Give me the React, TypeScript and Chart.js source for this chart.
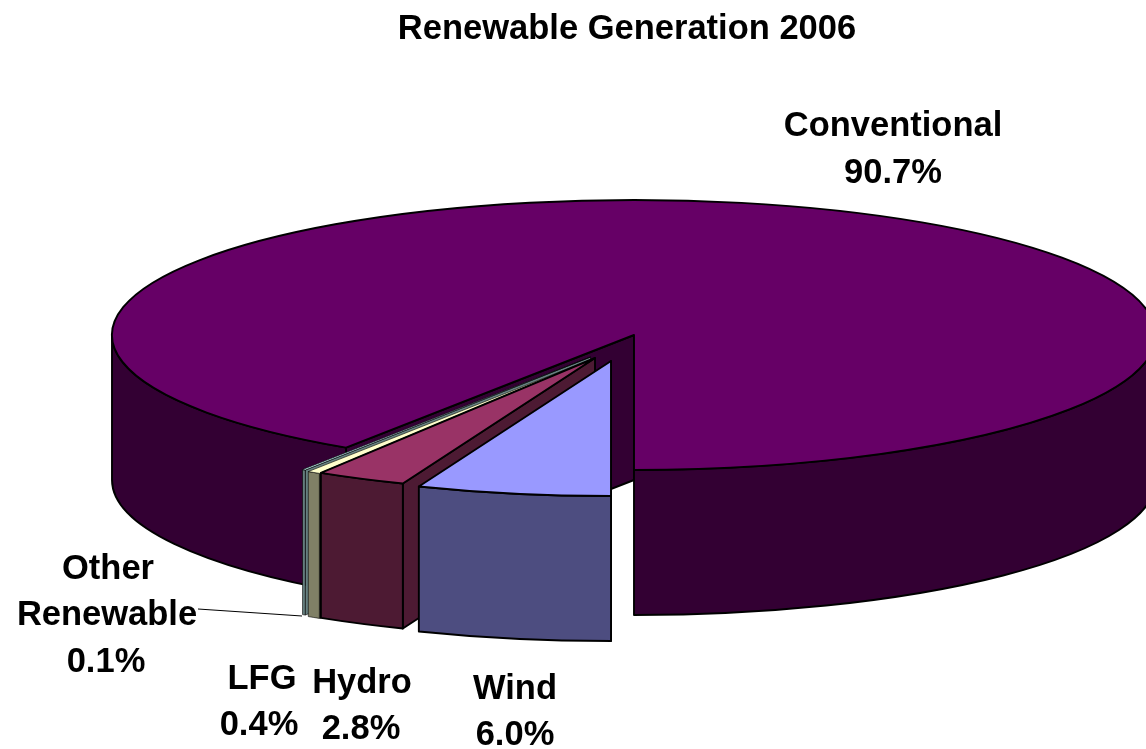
import React, { useEffect, useRef } from "react";
import { Chart, registerables } from "chart.js";

Chart.register(...registerables);

// Data, clockwise from straight down
const categories = ["Wind", "Hydro", "LFG", "Other Renewable", "Conventional"];
const shares = [6.0, 2.8, 0.4, 0.1, 90.7];
const titleText = "Renewable Generation 2006";

// Style
const topColors = ["#9999FF", "#993366", "#FFFFCC", "#CCFFFF", "#660066"];
const wallColors = ["#4D4D80", "#4D1A33", "#808066", "#668080", "#330033"];
const FONT = '"Liberation Sans", Arial, sans-serif';
const FONT_SIZE = 34.5;
const RADIUS = 522;
const SQUASH = 135 / 522;
const DEPTH = 145;
const CENTER_SHIFT = 7;
const LINE = 1.9;
const THIN_LINE = 0.6;
const explodeX = [-23, -39, -40.5, -43.5, 0];
const explodeY = [26, 23, 23.5, 22, 0];

const labelLines = [
  ["Wind", "6.0%"],
  ["Hydro", "2.8%"],
  ["LFG", "0.4%"],
  ["Other", "Renewable", "0.1%"],
  ["Conventional", "90.7%"],
];
const labelX = [[515, 515], [362, 361], [262, 259], [108, 107, 106], [893, 893]];
const labelY = [[689, 735], [683, 729], [679, 725], [569, 615, 662], [126, 173]];

function centerY(chart: any) {
  return (chart.chartArea.top + chart.chartArea.bottom) / 2;
}

function arcCenter(chart: any, arc: any) {
  const cy = centerY(chart);
  return { x: arc.x, y: cy + (arc.y - cy) * SQUASH };
}

function frontRanges(start: number, end: number) {
  const out: [number, number][] = [];
  for (const [a, b] of [
    [0, Math.PI],
    [2 * Math.PI, 3 * Math.PI],
  ]) {
    const s = Math.max(a, start);
    const e = Math.min(b, end);
    if (e > s) out.push([s, e]);
  }
  return out;
}

const pie3d = {
  id: "pie3d",
  afterDatasetsUpdate(chart: any) {
    const arcs = chart.getDatasetMeta(0).data;
    arcs.forEach((arc: any, i: number) => {
      arc.x += CENTER_SHIFT + explodeX[i];
      arc.y += explodeY[i] / SQUASH;
    });
  },
  beforeDatasetsDraw(chart: any) {
    const { ctx } = chart;
    const arcs = chart.getDatasetMeta(0).data;
    ctx.save();
    ctx.strokeStyle = "#000000";
    ctx.lineJoin = "round";
    for (let i = arcs.length - 1; i >= 0; i--) {
      const arc = arcs[i];
      const c = arcCenter(chart, arc);
      const ry = arc.outerRadius * SQUASH;
      ctx.lineWidth = i === 2 || i === 3 ? THIN_LINE : LINE;
      ctx.fillStyle = wallColors[i];
      // radial cut face on the start edge, which looks towards the viewer
      const px = c.x + arc.outerRadius * Math.cos(arc.startAngle);
      const py = c.y + ry * Math.sin(arc.startAngle);
      ctx.beginPath();
      ctx.moveTo(c.x, c.y);
      ctx.lineTo(px, py);
      ctx.lineTo(px, py + DEPTH);
      ctx.lineTo(c.x, c.y + DEPTH);
      ctx.closePath();
      ctx.fill();
      ctx.stroke();
      // outer curved wall, front half only
      for (const [a, b] of frontRanges(arc.startAngle, arc.endAngle)) {
        ctx.beginPath();
        ctx.ellipse(c.x, c.y, arc.outerRadius, ry, 0, a, b, false);
        ctx.ellipse(c.x, c.y + DEPTH, arc.outerRadius, ry, 0, b, a, true);
        ctx.closePath();
        ctx.fill();
        ctx.stroke();
      }
    }
    ctx.restore();
    // the library draws the top faces through this squash
    const cy = centerY(chart);
    ctx.save();
    ctx.translate(0, cy);
    ctx.scale(1, SQUASH);
    ctx.translate(0, -cy);
  },
  afterDatasetsDraw(chart: any) {
    const { ctx } = chart;
    ctx.restore();
    const arcs = chart.getDatasetMeta(0).data;
    ctx.save();
    ctx.strokeStyle = "#000000";
    ctx.lineJoin = "round";
    arcs.forEach((arc: any, i: number) => {
      // the two thin slivers keep their pale faces visible
      ctx.lineWidth = i === 2 || i === 3 ? THIN_LINE : LINE;
      const c = arcCenter(chart, arc);
      ctx.beginPath();
      ctx.moveTo(c.x, c.y);
      ctx.ellipse(c.x, c.y, arc.outerRadius, arc.outerRadius * SQUASH, 0, arc.startAngle, arc.endAngle, false);
      ctx.closePath();
      ctx.stroke();
    });
    ctx.restore();
  },
  afterDraw(chart: any) {
    const { ctx } = chart;
    ctx.save();
    // leader line of the smallest slice
    ctx.strokeStyle = "#000000";
    ctx.lineWidth = 1;
    ctx.beginPath();
    ctx.moveTo(198, 609);
    ctx.lineTo(302, 616);
    ctx.stroke();
    ctx.fillStyle = "#000000";
    ctx.font = `bold ${FONT_SIZE}px ${FONT}`;
    ctx.textAlign = "center";
    ctx.textBaseline = "middle";
    labelLines.forEach((lines, i) => {
      lines.forEach((line, j) => {
        ctx.fillText(line, labelX[i][j], labelY[i][j]);
      });
    });
    ctx.restore();
  },
};

export default function App() {
  const ref = useRef<HTMLCanvasElement>(null);
  useEffect(() => {
    if (!ref.current) return;
    const chart = new Chart(ref.current, {
      type: "pie",
      data: {
        labels: categories,
        datasets: [
          {
            data: shares,
            backgroundColor: topColors,
            borderWidth: 0,
            clip: false,
          } as any,
        ],
      },
      options: {
        responsive: false,
        animation: false,
        events: [],
        rotation: 180,
        radius: RADIUS,
        layout: { padding: { left: 108, right: 0, top: 0, bottom: 128.7 } },
        plugins: {
          legend: { display: false },
          tooltip: { enabled: false },
          title: {
            display: true,
            text: titleText,
            fullSize: false,
            color: "#000000",
            font: { family: FONT, size: FONT_SIZE, weight: "bold", lineHeight: 1.2 },
            padding: { top: 8.3, bottom: 0 },
          },
        },
      } as any,
      plugins: [pie3d],
    });
    return () => chart.destroy();
  }, []);
  return (
    <div style={{ position: "absolute", left: 0, top: 0, width: 1146, height: 749, overflow: "hidden", background: "#fff" }}>
      <canvas ref={ref} width={1146} height={749} style={{ display: "block" }} />
    </div>
  );
}
